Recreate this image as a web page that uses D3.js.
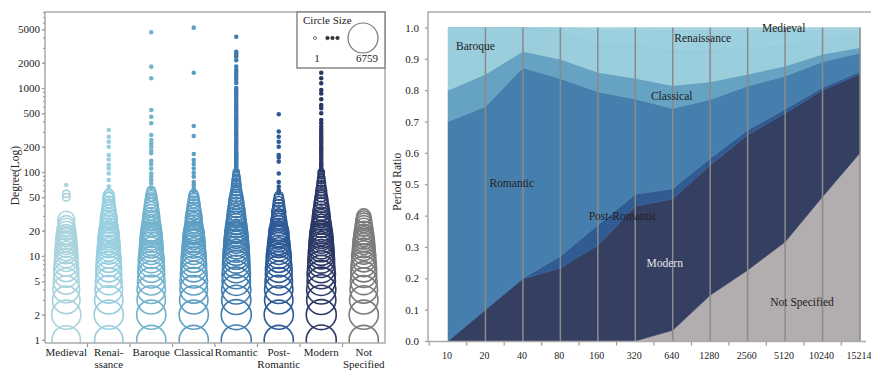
<!DOCTYPE html>
<html>
<head>
<meta charset="utf-8">
<script src="https://cdn.jsdelivr.net/npm/d3@7"></script>
<style>
  body { margin: 0; background: #fff; }
  svg { display: block; font-family: 'Liberation Serif', 'DejaVu Serif', serif; }
  .axis text { fill: #222; font-size: 11px; font-family: 'Liberation Serif', serif; }
  .axis line { stroke: #999; stroke-width: 1.2; }
  .axis path { display: none; }
  .frame { stroke: #aaa; stroke-width: 1.5; fill: none; }
  .lbl { font-size: 11.5px; fill: #222; }
</style>
</head>
<body>
<svg id="chart" width="871" height="370"></svg>
<script>
// ------------------------------------------
//  Data: degree distribution ([degree, count]) per period
// ------------------------------------------
const periods = ['Medieval', 'Renaissance', 'Baroque', 'Classical', 'Romantic', 'Post-Romantic', 'Modern', 'Not Specified']
const periodLabels = [['Medieval'], ['Renai-', 'ssance'], ['Baroque'], ['Classical'], ['Romantic'], ['Post-', 'Romantic'], ['Modern'], ['Not', 'Specified']]
const circleColors = ['#a9d3dc', '#98cfe0', '#73b3cd', '#5d9fc4', '#3f7caf', '#2d5a96', '#2b3865', '#7b7b7b']
const yTicks = [1, 2, 5, 10, 20, 50, 100, 200, 500, 1000, 2000, 5000]

const medieval = [[1, 5800], [2, 6270], [3, 5360], [4, 4930], [5, 4520], [6, 4120], [7, 4120], [8, 3730], [9, 3380], [10, 3380],
  [11, 3040], [12, 3040], [13, 2710], [14, 2710], [15, 2410], [16, 2410], [17, 2130], [18, 2130], [20, 1860], [22, 1610],
  [24, 1380], [27, 1380], [50, 100], [55, 100], [70, 1]]
const renaissance = [[1, 5800], [2, 6270], [3, 5800], [4, 5360], [5, 4930], [6, 4520], [7, 4520], [8, 4120], [9, 4120], [10, 3730],
  [11, 3380], [12, 3380], [13, 3040], [14, 3040], [15, 2710], [16, 2710], [17, 2410], [18, 2410], [19, 2130], [20, 2130],
  [22, 1860], [24, 1610], [26, 1380], [28, 1380], [30, 1160], [33, 965], [36, 790], [40, 630], [44, 486], [48, 486],
  [50, 362], [53, 362], [56, 169]]
const renaissanceTail = [67, 80, 96, 110, 121, 141, 159, 200, 229, 263, 316]
const baroque = [[1, 6270], [2, 6270], [3, 5800], [4, 5800], [5, 5360], [6, 4930], [7, 4930], [8, 4520], [9, 4520], [10, 4120],
  [11, 3730], [12, 3730], [13, 3380], [14, 3380], [15, 3040], [16, 3040], [17, 2710], [18, 2710], [19, 2410], [20, 2410],
  [22, 2130], [24, 1860], [26, 1610], [28, 1380], [30, 1380], [33, 1160], [36, 965], [40, 790], [44, 630], [48, 486],
  [52, 362], [56, 256], [60, 169]]
const baroqueTail = [64, 73, 80, 88, 96, 110, 124, 136, 167, 180, 200, 218, 240, 276, 380, 455, 547, 1304, 1795, 4600]
const classical = [[1, 6270], [2, 6270], [3, 5800], [4, 5360], [5, 5360], [6, 4930], [7, 4520], [8, 4520], [9, 4120], [10, 4120],
  [11, 3730], [12, 3380], [13, 3380], [14, 3040], [15, 3040], [16, 2710], [17, 2710], [18, 2410], [19, 2410], [20, 2130],
  [22, 1860], [24, 1610], [26, 1380], [28, 1380], [30, 1160], [33, 965], [36, 790], [40, 630], [44, 486], [48, 362],
  [52, 256], [55, 169]]
const classicalTail = [58, 64, 70, 76, 88, 98, 110, 124, 139, 164, 268, 353, 1520, 5230]
const romantic = [[1, 6759], [2, 6759], [3, 6270], [4, 6270], [5, 5800], [6, 5800], [7, 5360], [8, 5360], [9, 4930], [10, 4930],
  [11, 4520], [12, 4520], [13, 4120], [14, 4120], [15, 3730], [16, 3730], [17, 3380], [18, 3380], [19, 3040], [20, 3040],
  [22, 2710], [24, 2410], [26, 2130], [28, 1860], [30, 1860], [33, 1610], [36, 1380], [40, 1160], [44, 965], [48, 790],
  [52, 630], [56, 486], [60, 362], [65, 256], [70, 256], [75, 169], [80, 169], [85, 100], [90, 100], [95, 49], [100, 49]]
const romanticTail = [105, 110, 115, 120, 125, 130, 135, 140, 145, 150, 155, 160, 165, 170, 180, 190, 200, 210, 220, 230,
  240, 255, 270, 285, 300, 320, 340, 360, 380, 400, 420, 440, 460, 490, 520, 550, 580, 620, 650, 700, 750, 800, 850, 900,
  950, 1000, 1150, 1250, 1350, 1450, 1550, 1650, 1800, 2140, 2350, 2450, 2600, 2700, 4080]
const postRomantic = [[1, 6270], [2, 6270], [3, 5800], [4, 5800], [5, 5360], [6, 4930], [7, 4930], [8, 4520], [9, 4120], [10, 4120],
  [11, 3730], [12, 3380], [13, 3040], [14, 3040], [15, 2710], [16, 2410], [17, 2410], [18, 2130], [19, 2130], [20, 2130],
  [22, 1610], [24, 1380], [26, 1160], [28, 965], [30, 790], [33, 790], [36, 630], [40, 486], [44, 362], [48, 256], [52, 169]]
const postRomanticTail = [56, 61, 67, 76, 96, 133, 149, 159, 200, 229, 263, 303, 486]
const modern = [[1, 6759], [2, 6759], [3, 6270], [4, 6270], [5, 5800], [6, 5800], [7, 5360], [8, 4930], [9, 4930], [10, 4520],
  [11, 4520], [12, 4120], [13, 4120], [14, 3730], [15, 3730], [16, 3380], [17, 3380], [18, 3040], [19, 3040], [20, 2710],
  [22, 2410], [24, 2130], [26, 1860], [28, 1610], [30, 1610], [33, 1380], [36, 1160], [40, 965], [44, 790], [48, 630],
  [52, 486], [56, 362], [60, 362], [65, 256], [70, 169], [75, 169], [80, 100], [85, 100], [90, 49], [95, 49], [100, 49]]
const modernTail = [105, 110, 115, 120, 125, 130, 140, 150, 160, 170, 180, 190, 200, 215, 230, 245, 260, 280, 300, 320,
  345, 380, 415, 500, 575, 625, 735, 862, 945, 1140, 1304, 1520]
const notSpecified = [[1, 6270], [2, 6270], [3, 5800], [4, 5360], [5, 4930], [6, 4520], [7, 4520], [8, 4120], [9, 3730], [10, 3730],
  [11, 3380], [12, 3040], [13, 3040], [14, 2710], [15, 2710], [16, 2410], [17, 2130], [18, 2130], [20, 1860], [22, 1610],
  [24, 1380], [26, 1160], [28, 965], [30, 790]]

// ------------------------------------------
//  Data: period ratio per degree bucket
// ------------------------------------------
const buckets = ['10', '20', '40', '80', '160', '320', '640', '1280', '2560', '5120', '10240', '15214']
const stackKeys = ['Not Specified', 'Modern', 'Post-Romantic', 'Romantic', 'Classical', 'Baroque', 'Renaissance', 'Medieval']
const areaColors = ['#b2adae', '#353f62', '#305c93', '#467fad', '#66a2c2', '#9bcedd', '#9dd0df', '#a6d3de']

const ratioNotSpecified = [0, 0, 0, 0, 0, 0, 0.034, 0.146, 0.226, 0.316, 0.46, 0.60]
const ratioModern = [0, 0.10, 0.198, 0.233, 0.305, 0.43, 0.419, 0.415, 0.431, 0.41, 0.34, 0.251]
const ratioPostRomantic = [0, 0, 0.002, 0.037, 0.065, 0.038, 0.033, 0.021, 0.016, 0.013, 0.009, 0.008]
const ratioRomantic = [0.70, 0.648, 0.672, 0.567, 0.425, 0.304, 0.256, 0.188, 0.14, 0.106, 0.082, 0.06]
const ratioClassical = [0.10, 0.103, 0.052, 0.062, 0.062, 0.066, 0.073, 0.057, 0.038, 0.032, 0.024, 0.017]
const ratioBaroque = [0.20, 0.149, 0.076, 0.087, 0.084, 0.102, 0.107, 0.095, 0.079, 0.064, 0.045, 0.034]
const ratioRenaissance = [0, 0, 0, 0.014, 0.055, 0.055, 0.072, 0.071, 0.062, 0.051, 0.032, 0.022]
const ratioMedieval = [0, 0, 0, 0, 0.004, 0.005, 0.006, 0.007, 0.008, 0.008, 0.008, 0.008]

const areaLabels = [
  { text: 'Baroque', b: '10', v: 0.94, dx: 8, anchor: 'start', color: '#222' },
  { text: 'Romantic', b: '20', v: 0.505, dx: 4, anchor: 'start', color: '#222' },
  { text: 'Post-Romantic', b: '160', v: 0.40, dx: 25, anchor: 'middle', color: '#222' },
  { text: 'Classical', b: '640', v: 0.78, dx: -1, anchor: 'middle', color: '#222' },
  { text: 'Renaissance', b: '640', v: 0.965, dx: 30, anchor: 'middle', color: '#222' },
  { text: 'Medieval', b: '2560', v: 1.0, dx: 36, anchor: 'middle', color: '#222' },
  { text: 'Modern', b: '640', v: 0.25, dx: -8, anchor: 'middle', color: '#e6e6e6' },
  { text: 'Not Specified', b: '5120', v: 0.125, dx: 17, anchor: 'middle', color: '#222' }
]

const svg = d3.select('#chart')

// ------------------------------------------
//  Left: circle chart of degree per period
// ------------------------------------------
function drawDegreeChart() {
  const left = 45, right = 385, top = 12, bottom = 343
  const x = d3.scaleBand().domain(periods).range([left, right])
  const y = d3.scaleLog().domain([0.92, 8030]).range([bottom, top])
  const r = d3.scalePow().exponent(0.4).domain([1, 6759]).range([1.5, 15])

  const bodies = [medieval, renaissance, baroque, classical, romantic, postRomantic, modern, notSpecified]
  const tails = [[], renaissanceTail, baroqueTail, classicalTail, romanticTail, postRomanticTail, modernTail, []]
  const rows = periods.flatMap((p, i) => bodies[i].map(([d, n]) => ({ p, i, d, n }))
    .concat(tails[i].map(d => ({ p, i, d, n: 1 }))))
  rows.sort((a, b) => b.n - a.n)

  svg.append('clipPath').attr('id', 'leftClip')
    .append('rect').attr('x', left).attr('y', top).attr('width', right - left).attr('height', bottom - top)

  svg.append('g').attr('clip-path', 'url(#leftClip)')
    .selectAll('circle').data(rows).enter().append('circle')
    .attr('cx', d => x(d.p) + x.bandwidth() / 2)
    .attr('cy', d => y(d.d))
    .attr('r', d => r(d.n))
    .attr('fill', d => d.n === 1 ? circleColors[d.i] : 'none')
    .attr('stroke', d => circleColors[d.i])
    .attr('stroke-width', 1.6)

  // axes
  svg.append('g').attr('class', 'axis')
    .attr('transform', `translate(${left},0)`)
    .call(d3.axisLeft(y).tickValues(y.ticks()).tickFormat('').tickSize(2))
  svg.append('g').attr('class', 'axis')
    .attr('transform', `translate(${left},0)`)
    .call(d3.axisLeft(y).tickValues(yTicks).tickFormat(d3.format('d')).tickSize(3).tickPadding(2))

  svg.append('g').attr('class', 'axis')
    .selectAll('line').data(periods.slice(1)).enter().append('line')
    .attr('x1', d => x(d)).attr('x2', d => x(d))
    .attr('y1', bottom).attr('y2', bottom + 4)

  const labels = svg.append('g').attr('class', 'lbl').style('font-size', '11px')
    .selectAll('text').data(periods).enter().append('text')
    .attr('text-anchor', 'middle')
    .attr('x', d => x(d) + x.bandwidth() / 2)
    .attr('y', 355.5)
  labels.selectAll('tspan').data((d, i) => periodLabels[i]).enter().append('tspan')
    .attr('x', function () { return this.parentNode.getAttribute('x') })
    .attr('dy', (d, i) => i === 0 ? 0 : 12.5)
    .text(d => d)

  svg.append('path').attr('class', 'frame')
    .attr('d', `M${left},${bottom}V${top}H${right}V${bottom}H${left}`)

  svg.append('text').attr('class', 'lbl')
    .attr('transform', `translate(19,${(top + bottom) / 2 - 2}) rotate(-90)`)
    .attr('text-anchor', 'middle')
    .text('Degree(Log)')

  // legend
  const lg = svg.append('g')
  lg.append('rect').attr('x', 297).attr('y', 12).attr('width', 88).attr('height', 56)
    .attr('fill', '#fff').attr('stroke', '#888').attr('stroke-width', 1.5)
  lg.append('text').attr('class', 'lbl').style('font-size', '11px').attr('x', 303).attr('y', 24).text('Circle Size')
  lg.append('circle').attr('cx', 315).attr('cy', 38).attr('r', r(1)).attr('fill', 'none').attr('stroke', '#777').attr('stroke-width', 1)
  lg.selectAll('.dot').data([327.5, 332.5, 337.5]).enter().append('circle')
    .attr('cx', d => d).attr('cy', 38).attr('r', 1.7).attr('fill', '#333').attr('stroke', '#333').attr('stroke-width', 0.8)
  lg.append('circle').attr('cx', 363).attr('cy', 38).attr('r', r(6759)).attr('fill', 'none').attr('stroke', '#777').attr('stroke-width', 1.2)
  lg.append('text').attr('class', 'lbl').style('font-size', '11px').attr('x', 317).attr('y', 62).attr('text-anchor', 'middle').text('1')
  lg.append('text').attr('class', 'lbl').style('font-size', '11px').attr('x', 378).attr('y', 62).attr('text-anchor', 'end').text('6759')
}

// ------------------------------------------
//  Right: stacked period ratio
// ------------------------------------------
function drawRatioChart() {
  const left = 428, top = 12, bottom = 341.5
  const x = d3.scalePoint().domain(buckets).range([448, 860])
  const y = d3.scaleLinear().domain([0, 1]).range([341, 27.5])
  const step = x.step()

  const ratios = [ratioNotSpecified, ratioModern, ratioPostRomantic, ratioRomantic, ratioClassical, ratioBaroque, ratioRenaissance, ratioMedieval]
  const table = buckets.map((b, j) => {
    const row = { bucket: b }
    stackKeys.forEach((k, i) => { row[k] = ratios[i][j] })
    return row
  })
  const series = d3.stack().keys(stackKeys)(table)

  const area = d3.area()
    .x(d => x(d.data.bucket))
    .y0(d => y(d[0]))
    .y1(d => y(d[1]))

  svg.append('g').selectAll('path').data(series).enter().append('path')
    .attr('d', area)
    .attr('fill', (d, i) => areaColors[i])
    .attr('stroke', (d, i) => areaColors[i])
    .attr('stroke-width', 0.6)

  // faint edge between Baroque and Renaissance
  svg.append('path')
    .datum(series[5])
    .attr('d', d3.line().x(d => x(d.data.bucket)).y(d => y(d[1])))
    .attr('fill', 'none').attr('stroke', '#8fc6d7').attr('stroke-width', 0.7)

  svg.append('g').selectAll('line').data(buckets.slice(1)).enter().append('line')
    .attr('x1', d => x(d)).attr('x2', d => x(d))
    .attr('y1', y(1)).attr('y2', y(0))
    .attr('stroke', '#8a8a8a').attr('stroke-width', 1.5)

  svg.append('g').selectAll('text').data(areaLabels).enter().append('text')
    .attr('class', 'lbl')
    .attr('x', d => x(d.b) + d.dx)
    .attr('y', d => y(d.v) + 4)
    .attr('text-anchor', d => d.anchor)
    .style('fill', d => d.color)
    .text(d => d.text)

  // axes
  svg.append('g').attr('class', 'axis')
    .attr('transform', `translate(${left},0)`)
    .call(d3.axisLeft(y).ticks(10).tickFormat(d3.format('.1f')).tickSize(3).tickPadding(6))

  svg.append('g').attr('class', 'axis')
    .attr('transform', `translate(0,${bottom})`)
    .call(d3.axisBottom(x).tickSize(0).tickPadding(10))
    .selectAll('text').style('font-size', '10px').attr('dx', '-1.5')

  svg.append('g').attr('class', 'axis')
    .selectAll('line').data(buckets).enter().append('line')
    .attr('x1', d => x(d) - step / 2).attr('x2', d => x(d) - step / 2)
    .attr('y1', bottom).attr('y2', bottom + 4)

  svg.append('path').attr('class', 'frame')
    .attr('d', `M${871},${top}H${left}V${bottom}H${866}`)

  svg.append('text').attr('class', 'lbl')
    .attr('transform', `translate(401,${(top + bottom) / 2 + 5}) rotate(-90)`)
    .attr('text-anchor', 'middle')
    .text('Period Ratio')
}

drawDegreeChart()
drawRatioChart()
</script>
</body>
</html>
